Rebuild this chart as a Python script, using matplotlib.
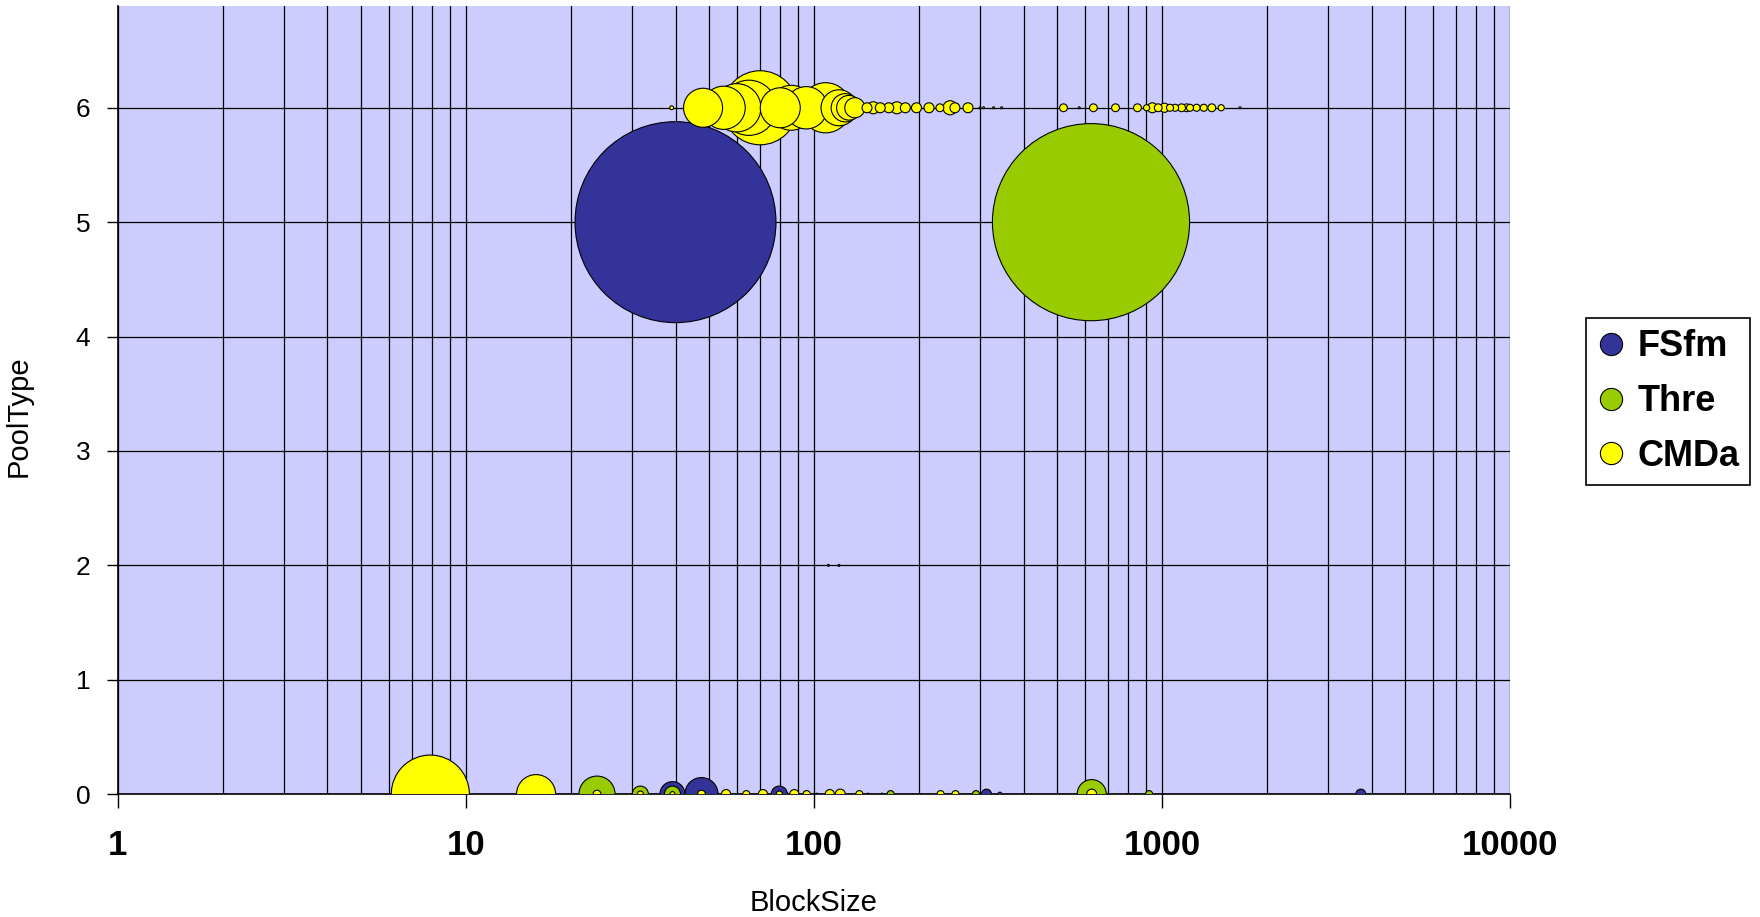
import matplotlib.pyplot as plt
from matplotlib.lines import Line2D
from matplotlib.ticker import LogLocator, NullFormatter
import numpy as np

plt.rcParams['font.family'] = ['Liberation Sans', 'DejaVu Sans']

# bubble data: x = BlockSize, y = PoolType, size = bubble size (area)
fsfm_x = [40, 39.2, 47.5, 79.5, 313, 342, 3724, 110, 118]
fsfm_y = [5, 0, 0, 0, 0, 0, 0, 2, 2]
fsfm_size = [5300, 82, 144, 34, 13, 2, 13, 0.5, 0.5]

thre_x = [625, 23.8, 31.7, 39.2, 95, 166, 292, 628, 918]
thre_y = [5, 0, 0, 0, 0, 0, 0, 0, 0]
thre_size = [5100, 171, 34, 34, 5, 6.5, 6.5, 111, 6.5]

cmda_top_x = [39, 48, 55, 60, 65, 70, 80, 86, 95, 108,
              118, 123, 126, 131, 142, 148, 155, 164, 173, 183,
              197, 214, 230, 246, 254, 277, 300, 307, 328, 346,
              521, 578, 635, 735, 850, 903, 938, 975, 1016, 1054,
              1090, 1138, 1177, 1203, 1257, 1318, 1390, 1479, 1675]
cmda_top_size = [2, 200, 245, 305, 400, 720, 210, 265, 235, 330,
                 170, 105, 80, 53, 13, 19, 13, 13, 19, 13,
                 13, 13, 8, 26, 13, 13, 0.5, 0.5, 0.5, 0.5,
                 8, 0.5, 8, 8, 8, 5, 13, 8, 11, 6.5,
                 6.5, 8, 8, 6.5, 6.5, 6.5, 8, 5, 0.5]
cmda_bot_x = [7.9, 15.9, 23.8, 31.7, 39.2, 47.5, 55.9, 63.9, 71.3, 79.5,
              87.8, 95.3, 102, 111, 119, 135, 143, 157, 231, 255, 628]
cmda_bot_size = [800, 200, 8, 5, 3.3, 8, 11, 6.5, 11, 5,
                 11, 6.5, 0.5, 11, 13, 6.5, 0.5, 0.5, 6.5, 6.5, 13]

cmda_x = cmda_top_x + cmda_bot_x
cmda_y = [6] * len(cmda_top_x) + [0] * len(cmda_bot_x)
cmda_size = cmda_top_size + cmda_bot_size

names = ['FSfm', 'Thre', 'CMDa']
colors = ['#333399', '#99CC00', '#FFFF00']

fig = plt.figure(figsize=(17.6, 9.17), dpi=100)
ax = fig.add_axes([0.067, 0.134, 0.791, 0.8595])
ax.set_facecolor('#CCCCFF')


def bubbles(x, y, size, color, label):
    x = np.array(x)
    y = np.array(y)
    size = np.array(size, dtype=float)
    # big ones first so small ones stay visible
    order = np.argsort(-size)
    ax.scatter(x[order], y[order], s=size[order] * 3.95, c=color,
               edgecolors='black', linewidths=0.8, label=label, zorder=3)


bubbles(fsfm_x, fsfm_y, fsfm_size, colors[0], names[0])
bubbles(thre_x, thre_y, thre_size, colors[1], names[1])
bubbles(cmda_x, cmda_y, cmda_size, colors[2], names[2])

ax.set_xscale('log')
ax.set_xlim(1, 10000)
ax.set_ylim(0, 6.89)
ax.set_xticks([1, 10, 100, 1000, 10000], labels=['1', '10', '100', '1000', '10000'])
ax.xaxis.set_minor_locator(LogLocator(base=10, subs=range(2, 10)))
ax.xaxis.set_minor_formatter(NullFormatter())
ax.set_yticks(range(7))

ax.tick_params(axis='x', which='minor', length=0)
ax.tick_params(axis='x', which='major', length=10, width=1, pad=15, labelsize=25)
ax.tick_params(axis='y', length=8, width=1, pad=12, labelsize=19)
for lab in ax.get_xticklabels():
    lab.set_fontweight('bold')

ax.set_axisbelow(True)
ax.grid(True, which='both', axis='x', color='black', lw=0.9)
ax.grid(True, which='major', axis='y', color='black', lw=0.9)

ax.spines['top'].set_visible(False)
ax.spines['right'].set_visible(False)
ax.spines['left'].set_linewidth(1.2)
ax.spines['bottom'].set_linewidth(1.2)

ax.set_xlabel('BlockSize', fontsize=21)
ax.set_ylabel('PoolType', fontsize=21)
ax.xaxis.set_label_coords(0.5, -0.121)
ax.yaxis.set_label_coords(-0.061, 0.48)

handles = [Line2D([], [], marker='o', ls='none', markersize=16,
                  markerfacecolor=c, markeredgecolor='black', markeredgewidth=0.8)
           for c in colors]
leg = fig.legend(handles, names, loc='center left', bbox_to_anchor=(0.901, 0.562),
                 prop={'size': 26, 'weight': 'bold'}, frameon=True, fancybox=False,
                 framealpha=1, edgecolor='black', handlelength=0.8, handletextpad=0.33,
                 borderpad=0.3, labelspacing=0.55, borderaxespad=0)
leg.get_frame().set_linewidth(1.2)

fig.savefig('out.png', dpi=100)
